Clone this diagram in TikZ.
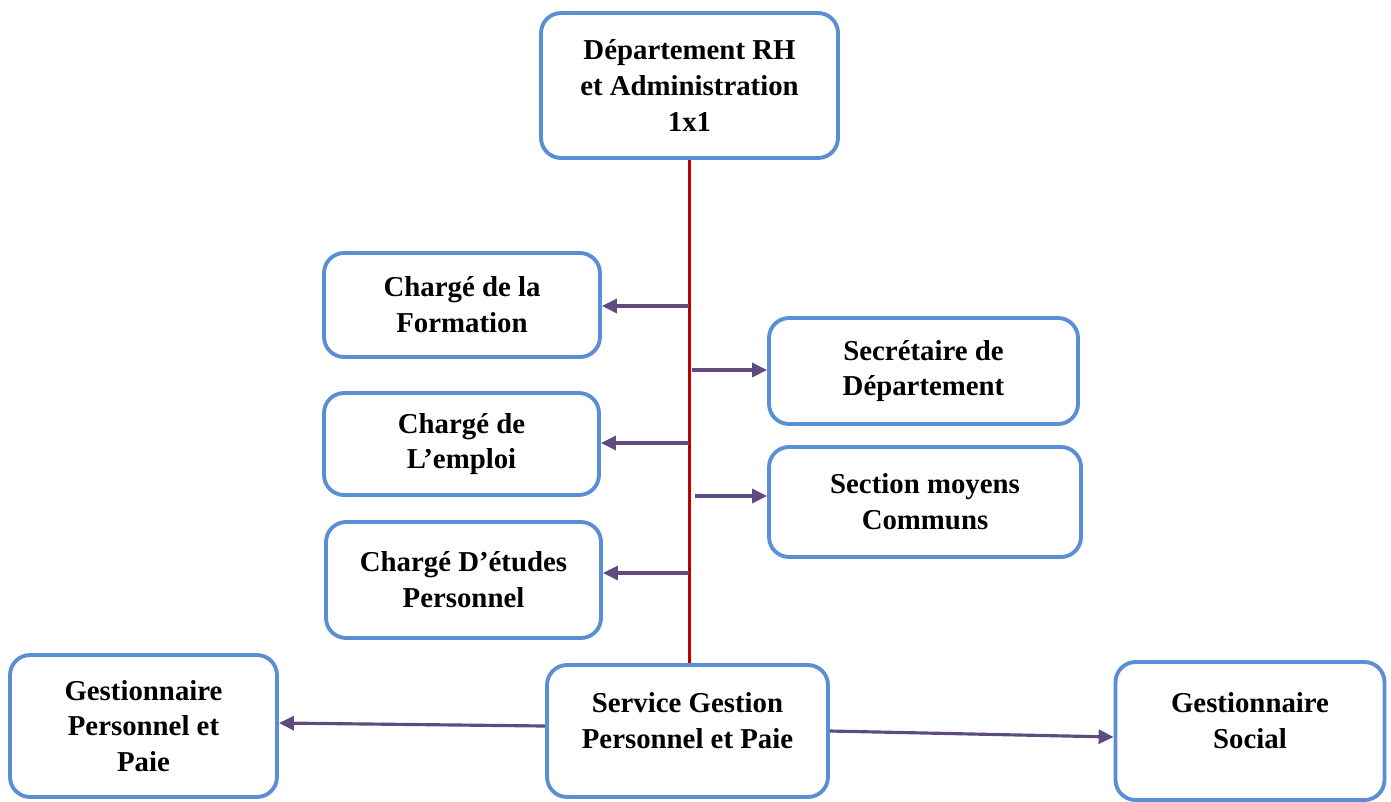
\documentclass[tikz,border=0pt]{standalone}
\usepackage{fontspec}
\setmainfont{Liberation Serif}
\usetikzlibrary{arrows.meta}
\definecolor{chartBox}{HTML}{5B8FD5}
\definecolor{chartSpine}{HTML}{C00000}
\definecolor{chartFlow}{HTML}{5F4B7F}

\begin{document}
\begin{tikzpicture}[
    x=0.02cm,y=-0.02cm,
    every node/.style={font=\bfseries\fontsize{16.4}{20.4}\selectfont,align=center},
    unit/.style={draw=chartBox,fill=white,line width=2.2pt,rounded corners=0.4cm},
    lowunit/.style={unit,text depth=0.42cm},
    spine/.style={draw=chartSpine,line width=2.2pt},
    flow/.style={-{Triangle[length=3mm,width=2.8mm]},draw=chartFlow,line width=1.8pt}
]
\useasboundingbox (0,0) rectangle (1391,801);
\node[unit,minimum width=5.94cm,minimum height=2.9cm] (dept) at (689.5,85.5) {Département RH\\et Administration\\1x1};
\node[unit,minimum width=5.52cm,minimum height=2.08cm] (form) at (462,305) {Chargé de la\\Formation};
\node[unit,minimum width=6.18cm,minimum height=2.12cm] (secr) at (923.5,371) {Secrétaire de\\Département};
\node[unit,minimum width=5.5cm,minimum height=2.04cm] (emploi) at (461.5,444) {Chargé de\\L’emploi};
\node[unit,minimum width=6.24cm,minimum height=2.2cm] (moyens) at (925,502) {Section moyens\\Communs};
\node[unit,minimum width=5.5cm,minimum height=2.32cm] (etudes) at (463.5,580) {Chargé D’études\\Personnel};
\node[unit,minimum width=5.34cm,minimum height=2.84cm] (gpaie) at (143.5,726) {Gestionnaire\\Personnel et\\Paie};
\node[lowunit,minimum width=5.62cm,minimum height=2.64cm] (service) at (687.5,731) {Service Gestion\\Personnel et Paie};
\node[lowunit,minimum width=5.38cm,minimum height=2.76cm] (social) at (1250,731) {Gestionnaire\\Social};
\draw[spine] (dept.south) -- (dept.south |- service.north);
\coordinate (tform) at (689,306);
\coordinate (tsecr) at (692,370);
\coordinate (templ) at (689,443);
\coordinate (tmoy) at (695,496);
\coordinate (tetu) at (689,573);
\draw[flow] (tform) -- (tform -| form.east);
\draw[flow] (tsecr) -- (tsecr -| secr.west);
\draw[flow] (templ) -- (templ -| emploi.east);
\draw[flow] (tmoy) -- (tmoy -| moyens.west);
\draw[flow] (tetu) -- (tetu -| etudes.east);
\draw[flow] ([yshift=0.1cm]service.west) -- ([yshift=0.06cm]gpaie.east);
\draw[flow] (service.east) -- ([yshift=-0.12cm]social.west);
\end{tikzpicture}
\end{document}
